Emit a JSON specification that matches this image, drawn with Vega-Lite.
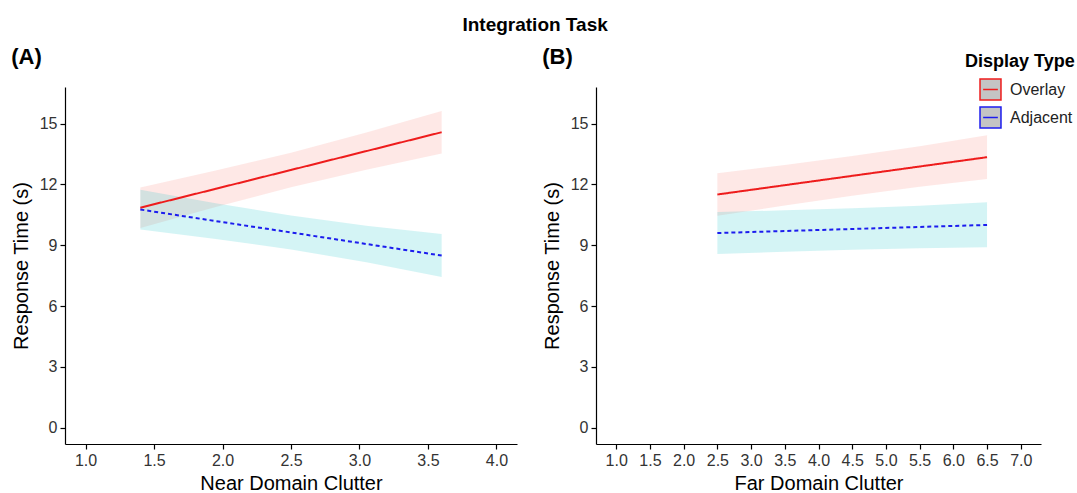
{
  "$schema": "https://vega.github.io/schema/vega-lite/v6.json",
  "background": "white",
  "padding": {"left": 11, "top": 16, "right": 0, "bottom": 0},
  "title": {"text": "Integration Task", "anchor": "middle", "fontSize": 19, "fontWeight": "bold", "font": "Liberation Sans", "color": "black", "offset": 11, "dx": -8},
  "config": {
    "font": "Liberation Sans",
    "view": {"stroke": null},
    "axis": {"grid": false, "domainColor": "black", "domainWidth": 1.2, "tickColor": "black", "tickWidth": 1.2, "tickSize": 5, "labelFontSize": 16, "labelColor": "#333333", "labelPadding": 3, "labelOverlap": false, "titleFontSize": 20, "titleFontWeight": "normal", "titleColor": "black", "titlePadding": 8, "labelFont": "Liberation Sans", "titleFont": "Liberation Sans"},
    "axisX": {"titlePadding": 5},
    "title": {"fontSize": 22, "fontWeight": "bold", "anchor": "start", "color": "black", "font": "Liberation Sans"}
  },
  "datasets": {
    "A": [
      {"type": "Overlay", "x": 1.4, "y": 10.85, "lo": 9.85, "hi": 11.85},
      {"type": "Overlay", "x": 1.95, "y": 11.78, "lo": 10.88, "hi": 12.68},
      {"type": "Overlay", "x": 2.5, "y": 12.71, "lo": 11.86, "hi": 13.56},
      {"type": "Overlay", "x": 3.05, "y": 13.64, "lo": 12.72, "hi": 14.56},
      {"type": "Overlay", "x": 3.6, "y": 14.57, "lo": 13.52, "hi": 15.62},
      {"type": "Adjacent", "x": 1.4, "y": 10.76, "lo": 9.78, "hi": 11.74},
      {"type": "Adjacent", "x": 1.95, "y": 10.19, "lo": 9.31, "hi": 11.07},
      {"type": "Adjacent", "x": 2.5, "y": 9.63, "lo": 8.79, "hi": 10.47},
      {"type": "Adjacent", "x": 3.05, "y": 9.06, "lo": 8.16, "hi": 9.96},
      {"type": "Adjacent", "x": 3.6, "y": 8.49, "lo": 7.43, "hi": 9.55}
    ],
    "B": [
      {"type": "Overlay", "x": 2.5, "y": 11.5, "lo": 10.45, "hi": 12.55},
      {"type": "Overlay", "x": 3.5, "y": 11.96, "lo": 10.96, "hi": 12.96},
      {"type": "Overlay", "x": 4.5, "y": 12.42, "lo": 11.44, "hi": 13.4},
      {"type": "Overlay", "x": 5.5, "y": 12.88, "lo": 11.88, "hi": 13.88},
      {"type": "Overlay", "x": 6.5, "y": 13.34, "lo": 12.26, "hi": 14.42},
      {"type": "Adjacent", "x": 2.5, "y": 9.6, "lo": 8.57, "hi": 10.64},
      {"type": "Adjacent", "x": 3.5, "y": 9.7, "lo": 8.68, "hi": 10.72},
      {"type": "Adjacent", "x": 4.5, "y": 9.8, "lo": 8.78, "hi": 10.82},
      {"type": "Adjacent", "x": 5.5, "y": 9.9, "lo": 8.85, "hi": 10.95},
      {"type": "Adjacent", "x": 6.5, "y": 10.0, "lo": 8.9, "hi": 11.12}
    ]
  },
  "hconcat": [
    {
      "title": {"text": "(A)", "offset": 18},
      "width": 452,
      "height": 357,
      "data": {"name": "A"},
      "encoding": {
        "x": {"field": "x", "type": "quantitative", "scale": {"domain": [0.85, 4.15], "nice": false, "zero": false}, "axis": {"values": [1, 1.5, 2, 2.5, 3, 3.5, 4], "format": ".1f", "labelOverlap": false, "title": "Near Domain Clutter"}}
      },
      "layer": [
        {
          "mark": {"type": "area", "opacity": 0.17},
          "encoding": {
            "y": {"field": "lo", "type": "quantitative", "scale": {"domain": [-0.8, 16.8], "nice": false, "zero": false}, "axis": {"values": [0, 3, 6, 9, 12, 15], "title": "Response Time (s)"}},
            "y2": {"field": "hi"},
            "fill": {"condition": {"test": "datum.type === 'Overlay'", "value": "#F8766D"}, "value": "#00BFC4"},
            "detail": {"field": "type", "type": "nominal"}
          }
        },
        {
          "mark": {"type": "line", "strokeWidth": 2},
          "encoding": {
            "y": {"field": "y", "type": "quantitative"},
            "stroke": {"field": "type", "type": "nominal", "scale": {"domain": ["Overlay", "Adjacent"], "range": ["#ee1c1c", "#1c1cee"]}, "legend": null},
            "strokeDash": {"condition": {"test": "datum.type === 'Adjacent'", "value": [4, 3]}, "value": [1, 0]}
          }
        }
      ]
    },
    {
      "title": {"text": "(B)", "offset": -16},
      "width": 445,
      "height": 357,
      "data": {"name": "B"},
      "encoding": {
        "x": {"field": "x", "type": "quantitative", "scale": {"domain": [0.7, 7.3], "nice": false, "zero": false}, "axis": {"values": [1, 1.5, 2, 2.5, 3, 3.5, 4, 4.5, 5, 5.5, 6, 6.5, 7], "format": ".1f", "labelOverlap": false, "title": "Far Domain Clutter"}}
      },
      "layer": [
        {
          "mark": {"type": "area", "opacity": 0.17},
          "encoding": {
            "y": {"field": "lo", "type": "quantitative", "scale": {"domain": [-0.8, 16.8], "nice": false, "zero": false}, "axis": {"values": [0, 3, 6, 9, 12, 15], "title": "Response Time (s)"}},
            "y2": {"field": "hi"},
            "fill": {"condition": {"test": "datum.type === 'Overlay'", "value": "#F8766D"}, "value": "#00BFC4"},
            "detail": {"field": "type", "type": "nominal"}
          }
        },
        {
          "mark": {"type": "line", "strokeWidth": 2},
          "encoding": {
            "y": {"field": "y", "type": "quantitative"},
            "stroke": {"field": "type", "type": "nominal", "scale": {"domain": ["Overlay", "Adjacent"], "range": ["#ee1c1c", "#1c1cee"]},
              "legend": {"title": "Display Type", "orient": "none", "legendX": 369, "legendY": -34, "padding": 0, "titleFontSize": 18, "titleFontWeight": "bold", "titleColor": "black", "titlePadding": 7, "labelFontSize": 16, "labelColor": "#222222", "symbolSize": 440, "symbolStrokeWidth": 1.5, "symbolOffset": 14, "symbolType": "M-1,-1H1V1H-1Z M-0.7,0H0.7", "symbolFillColor": "#c4c4c4", "rowPadding": 1, "labelOffset": 8,
                "encode": {"symbols": {"update": {"fill": {"value": "#c4c4c4"}, "fillOpacity": {"value": 1}, "opacity": {"value": 1}}}}}},
            "strokeDash": {"condition": {"test": "datum.type === 'Adjacent'", "value": [4, 3]}, "value": [1, 0]}
          }
        }
      ]
    }
  ],
  "spacing": 25,
  "resolve": {"scale": {"x": "independent"}, "legend": {"stroke": "independent"}}
}
